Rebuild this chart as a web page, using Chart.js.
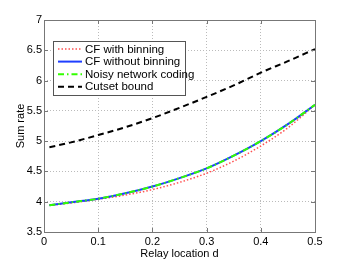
<!DOCTYPE HTML>
<html lang="en-US">
<head>
    <meta charset="utf-8" />
    <script src="https://cdn.jsdelivr.net/npm/chart.js@4"></script>
    <style>
        html, body { margin: 0; padding: 0; background: #fff; }
        #wrap { width: 348px; height: 261px; }
    </style>
</head>
<body>
<div id="wrap"><canvas id="graph"></canvas></div>
<script>
    // relay location d
    const relayD = [0.01, 0.05, 0.1, 0.15, 0.2, 0.25, 0.3, 0.35, 0.4, 0.45, 0.5];
    const cfBinning = [3.94, 3.98, 4.04, 4.11, 4.20, 4.32, 4.47, 4.67, 4.92, 5.22, 5.60];
    const cfNoBinning = [3.94, 3.99, 4.05, 4.14, 4.25, 4.39, 4.55, 4.76, 5.00, 5.28, 5.60];
    const noisyNetwork = [3.94, 3.99, 4.05, 4.14, 4.25, 4.39, 4.55, 4.76, 5.00, 5.28, 5.60];
    const cutset = [4.90, 4.98, 5.10, 5.23, 5.38, 5.55, 5.73, 5.92, 6.13, 6.32, 6.52];
    const xTicks = [0, 0.1, 0.2, 0.3, 0.4, 0.5];
    const yTicks = [3.5, 4, 4.5, 5, 5.5, 6, 6.5, 7];

    const FONT = '"Liberation Sans", Arial, sans-serif';
    const pts = (ys) => relayD.map((x, i) => ({ x: x, y: ys[i] }));

    // matlab style box, inward ticks, and legend
    const boxPlugin = {
        id: 'box',
        afterDraw(chart) {
            const ctx = chart.ctx;
            const a = chart.chartArea;
            const xs = chart.scales.x, ys = chart.scales.y;
            ctx.save();
            ctx.strokeStyle = '#777';
            ctx.lineWidth = 1;
            ctx.setLineDash([]);
            ctx.strokeRect(a.left + 0.5, a.top + 0.5, a.right - a.left, a.bottom - a.top);
            ctx.beginPath();
            for (const v of xTicks) {
                const px = Math.round(xs.getPixelForValue(v)) + 0.5;
                ctx.moveTo(px, a.bottom); ctx.lineTo(px, a.bottom - 4);
                ctx.moveTo(px, a.top); ctx.lineTo(px, a.top + 4);
            }
            for (const v of yTicks) {
                const py = Math.round(ys.getPixelForValue(v)) + 0.5;
                ctx.moveTo(a.left, py); ctx.lineTo(a.left + 4, py);
                ctx.moveTo(a.right, py); ctx.lineTo(a.right - 4, py);
            }
            ctx.stroke();

            // legend
            const lx = 53, ly = 41, lw = 132, lh = 54;
            ctx.fillStyle = '#fff';
            ctx.fillRect(lx, ly, lw, lh);
            ctx.strokeStyle = '#555';
            ctx.strokeRect(lx + 0.5, ly + 0.5, lw, lh);
            ctx.font = '11.5px ' + FONT;
            ctx.textBaseline = 'middle';
            chart.data.datasets.forEach((ds, i) => {
                const y = ly + 8 + i * 12.6;
                ctx.strokeStyle = ds.borderColor;
                ctx.lineWidth = ds.borderWidth;
                ctx.setLineDash(ds.borderDash || []);
                ctx.beginPath();
                ctx.moveTo(58, y); ctx.lineTo(82, y);
                ctx.stroke();
                ctx.fillStyle = '#000';
                ctx.fillText(ds.label, 85, y + 0.5);
            });
            ctx.restore();
        }
    };

    new Chart(document.getElementById('graph'), {
        type: 'line',
        data: {
            datasets: [
                { label: 'CF with binning', data: pts(cfBinning), borderColor: '#ff5050', borderWidth: 1.5, borderDash: [1.5, 2], order: 4 },
                { label: 'CF without binning', data: pts(cfNoBinning), borderColor: '#1f3fff', borderWidth: 2, order: 3 },
                { label: 'Noisy network coding', data: pts(noisyNetwork), borderColor: '#33ff00', borderWidth: 2, borderDash: [6, 3, 1.5, 3], order: 2 },
                { label: 'Cutset bound', data: pts(cutset), borderColor: '#000', borderWidth: 2, borderDash: [6, 4], order: 1 }
            ]
        },
        options: {
            responsive: true,
            maintainAspectRatio: false,
            animation: false,
            layout: { padding: { top: 20, right: 33, left: 0, bottom: 0 } },
            elements: { point: { radius: 0 }, line: { tension: 0.4, cubicInterpolationMode: 'monotone' } },
            plugins: { legend: { display: false }, tooltip: { enabled: false } },
            scales: {
                x: {
                    type: 'linear', min: 0, max: 0.5,
                    afterBuildTicks: (s) => { s.ticks = xTicks.map(v => ({ value: v })); },
                    afterFit: (s) => { s.height = 29; },
                    ticks: { color: '#000', font: { family: FONT, size: 11 }, padding: 3, maxRotation: 0, callback: (v) => String(v) },
                    grid: { color: '#bbb', drawTicks: false },
                    border: { display: false, dash: [1, 2] },
                    title: { display: true, text: 'Relay location d', color: '#000', font: { family: FONT, size: 11 }, padding: { top: 2, bottom: 0 } }
                },
                y: {
                    min: 3.5, max: 7,
                    afterBuildTicks: (s) => { s.ticks = yTicks.map(v => ({ value: v })); },
                    afterFit: (s) => { s.width = 44; },
                    ticks: { color: '#000', font: { family: FONT, size: 11 }, padding: 2, callback: (v) => String(v) },
                    grid: { color: '#bbb', drawTicks: false },
                    border: { display: false, dash: [1, 2] },
                    title: { display: true, text: 'Sum rate', color: '#000', font: { family: FONT, size: 11 }, padding: { top: 14, bottom: 0 } }
                }
            }
        },
        plugins: [boxPlugin]
    });
</script>
</body>
</html>
